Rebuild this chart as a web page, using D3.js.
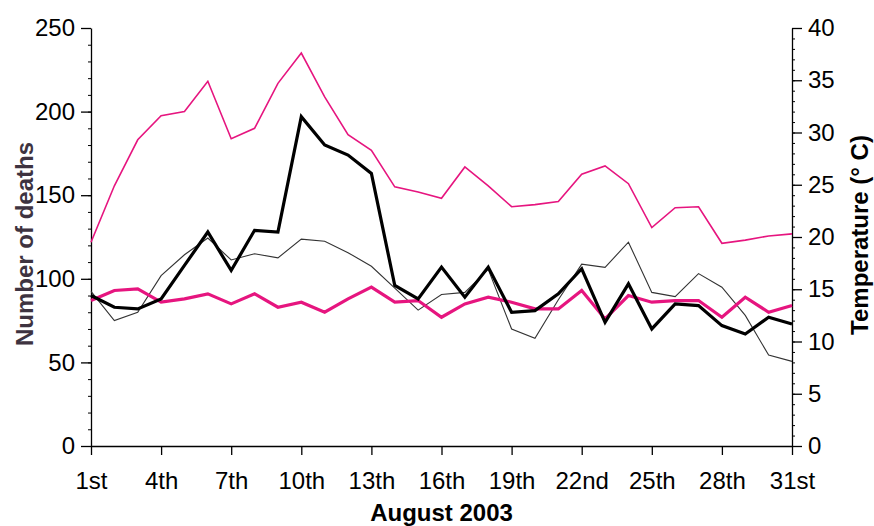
<!DOCTYPE html>
<html>
<head>
<meta charset="utf-8">
<script src="https://cdn.jsdelivr.net/npm/d3@7"></script>
<style>
  body { margin: 0; background: #fff; }
  svg { display: block; font-family: "Liberation Sans", Arial, sans-serif; }
  .axis text { font-size: 24px; fill: #000; }
  .axis path, .axis line { stroke: #000; stroke-width: 1.3; }
  .minor line { stroke: #000; stroke-width: 1; }
</style>
</head>
<body>
<svg id="chart" width="874" height="526"></svg>
<script>
// August 2003, day of month
const days = d3.range(1, 32);
const dayTicks = [1, 4, 7, 10, 13, 16, 19, 22, 25, 28, 31];
const dayLabels = ["1st", "4th", "7th", "10th", "13th", "16th", "19th", "22nd", "25th", "28th", "31st"];

// deaths (left axis)
const deaths2003 = [90, 83, 82, 88, 108, 128, 105, 129, 128, 197, 180, 174, 163, 96, 88, 107, 89, 107, 80, 81, 91,
                    106, 74, 97, 70, 85, 84, 72, 67, 77, 73];
const deathsBaseline = [87, 93, 94, 86, 88, 91, 85, 91, 83, 86, 80, 88, 95, 86, 87, 77, 85, 89, 86, 82, 82,
                        93, 76, 90, 86, 87, 87, 77, 89, 80, 84];

// temperature (right axis)
const tempMax = [19.5, 24.9, 29.3, 31.6, 32.0, 34.9, 29.4, 30.4, 34.7, 37.6, 33.4, 29.8, 28.3, 24.8, 24.3, 23.7,
                 26.7, 24.9, 22.9, 23.1, 23.4, 26.0, 26.8, 25.1, 20.9, 22.8, 22.9, 19.4, 19.7, 20.1, 20.3];
const tempMin = [14.8, 12.0, 12.8, 16.3, 18.3, 19.9, 17.8, 18.4, 18.0, 19.8, 19.6, 18.5, 17.2, 15.1, 13.0, 14.5,
                 14.7, 16.9, 11.2, 10.3, 14.0, 17.4, 17.1, 19.5, 14.7, 14.3, 16.5, 15.2, 12.5, 8.7, 8.1];

const pink = "#e6157f";

const svg = d3.select("#chart");
const margin = { top: 28, right: 82, bottom: 80, left: 91 };
const width = 874 - margin.left - margin.right;
const height = 526 - margin.top - margin.bottom;
const g = svg.append("g").attr("transform", `translate(${margin.left},${margin.top})`);

const x = d3.scaleLinear().domain([1, 31]).range([0, width]);
const yL = d3.scaleLinear().domain([0, 250]).range([height, 0]);
const yR = d3.scaleLinear().domain([0, 40]).range([height, 0]);

// minor ticks
g.append("g").attr("class", "minor")
  .call(d3.axisLeft(yL).tickValues(d3.range(0, 251, 10)).tickSize(3).tickFormat(""))
  .select(".domain").remove();
g.append("g").attr("class", "minor").attr("transform", `translate(${width},0)`)
  .call(d3.axisRight(yR).tickValues(d3.range(0, 41, 1)).tickSize(3).tickFormat(""))
  .select(".domain").remove();

// axes
g.append("g").attr("class", "axis")
  .call(d3.axisLeft(yL).tickValues(d3.range(0, 251, 50)).tickSize(10).tickSizeOuter(0).tickPadding(6));
g.append("g").attr("class", "axis").attr("transform", `translate(${width},0)`)
  .call(d3.axisRight(yR).tickValues(d3.range(0, 41, 5)).tickSize(10).tickSizeOuter(0).tickPadding(6));
g.append("g").attr("class", "axis").attr("transform", `translate(0,${height})`)
  .call(d3.axisBottom(x).tickValues(dayTicks).tickFormat((d, i) => dayLabels[i])
    .tickSize(9).tickSizeOuter(0).tickPadding(17));

// lines
const lineL = d3.line().x((d, i) => x(days[i])).y(d => yL(d));
const lineR = d3.line().x((d, i) => x(days[i])).y(d => yR(d));

g.append("path").datum(tempMin).attr("d", lineR)
  .attr("fill", "none").attr("stroke", "#333").attr("stroke-width", 1.1);
g.append("path").datum(tempMax).attr("d", lineR)
  .attr("fill", "none").attr("stroke", pink).attr("stroke-width", 1.6);
g.append("path").datum(deathsBaseline).attr("d", lineL)
  .attr("fill", "none").attr("stroke", pink).attr("stroke-width", 3.2);
g.append("path").datum(deaths2003).attr("d", lineL)
  .attr("fill", "none").attr("stroke", "#000").attr("stroke-width", 3.2);

// axis titles
svg.append("text")
  .attr("transform", "translate(33,244) rotate(-90)")
  .attr("text-anchor", "middle").attr("font-size", 24).attr("font-weight", "bold")
  .attr("fill", "#3e3340").text("Number of deaths");
svg.append("text")
  .attr("transform", "translate(868,235) rotate(-90)")
  .attr("text-anchor", "middle").attr("font-size", 24).attr("font-weight", "bold")
  .attr("fill", "#000").text("Temperature (° C)");
svg.append("text")
  .attr("x", margin.left + width / 2).attr("y", 521)
  .attr("text-anchor", "middle").attr("font-size", 24).attr("font-weight", "bold")
  .attr("fill", "#000").text("August 2003");
</script>
</body>
</html>
